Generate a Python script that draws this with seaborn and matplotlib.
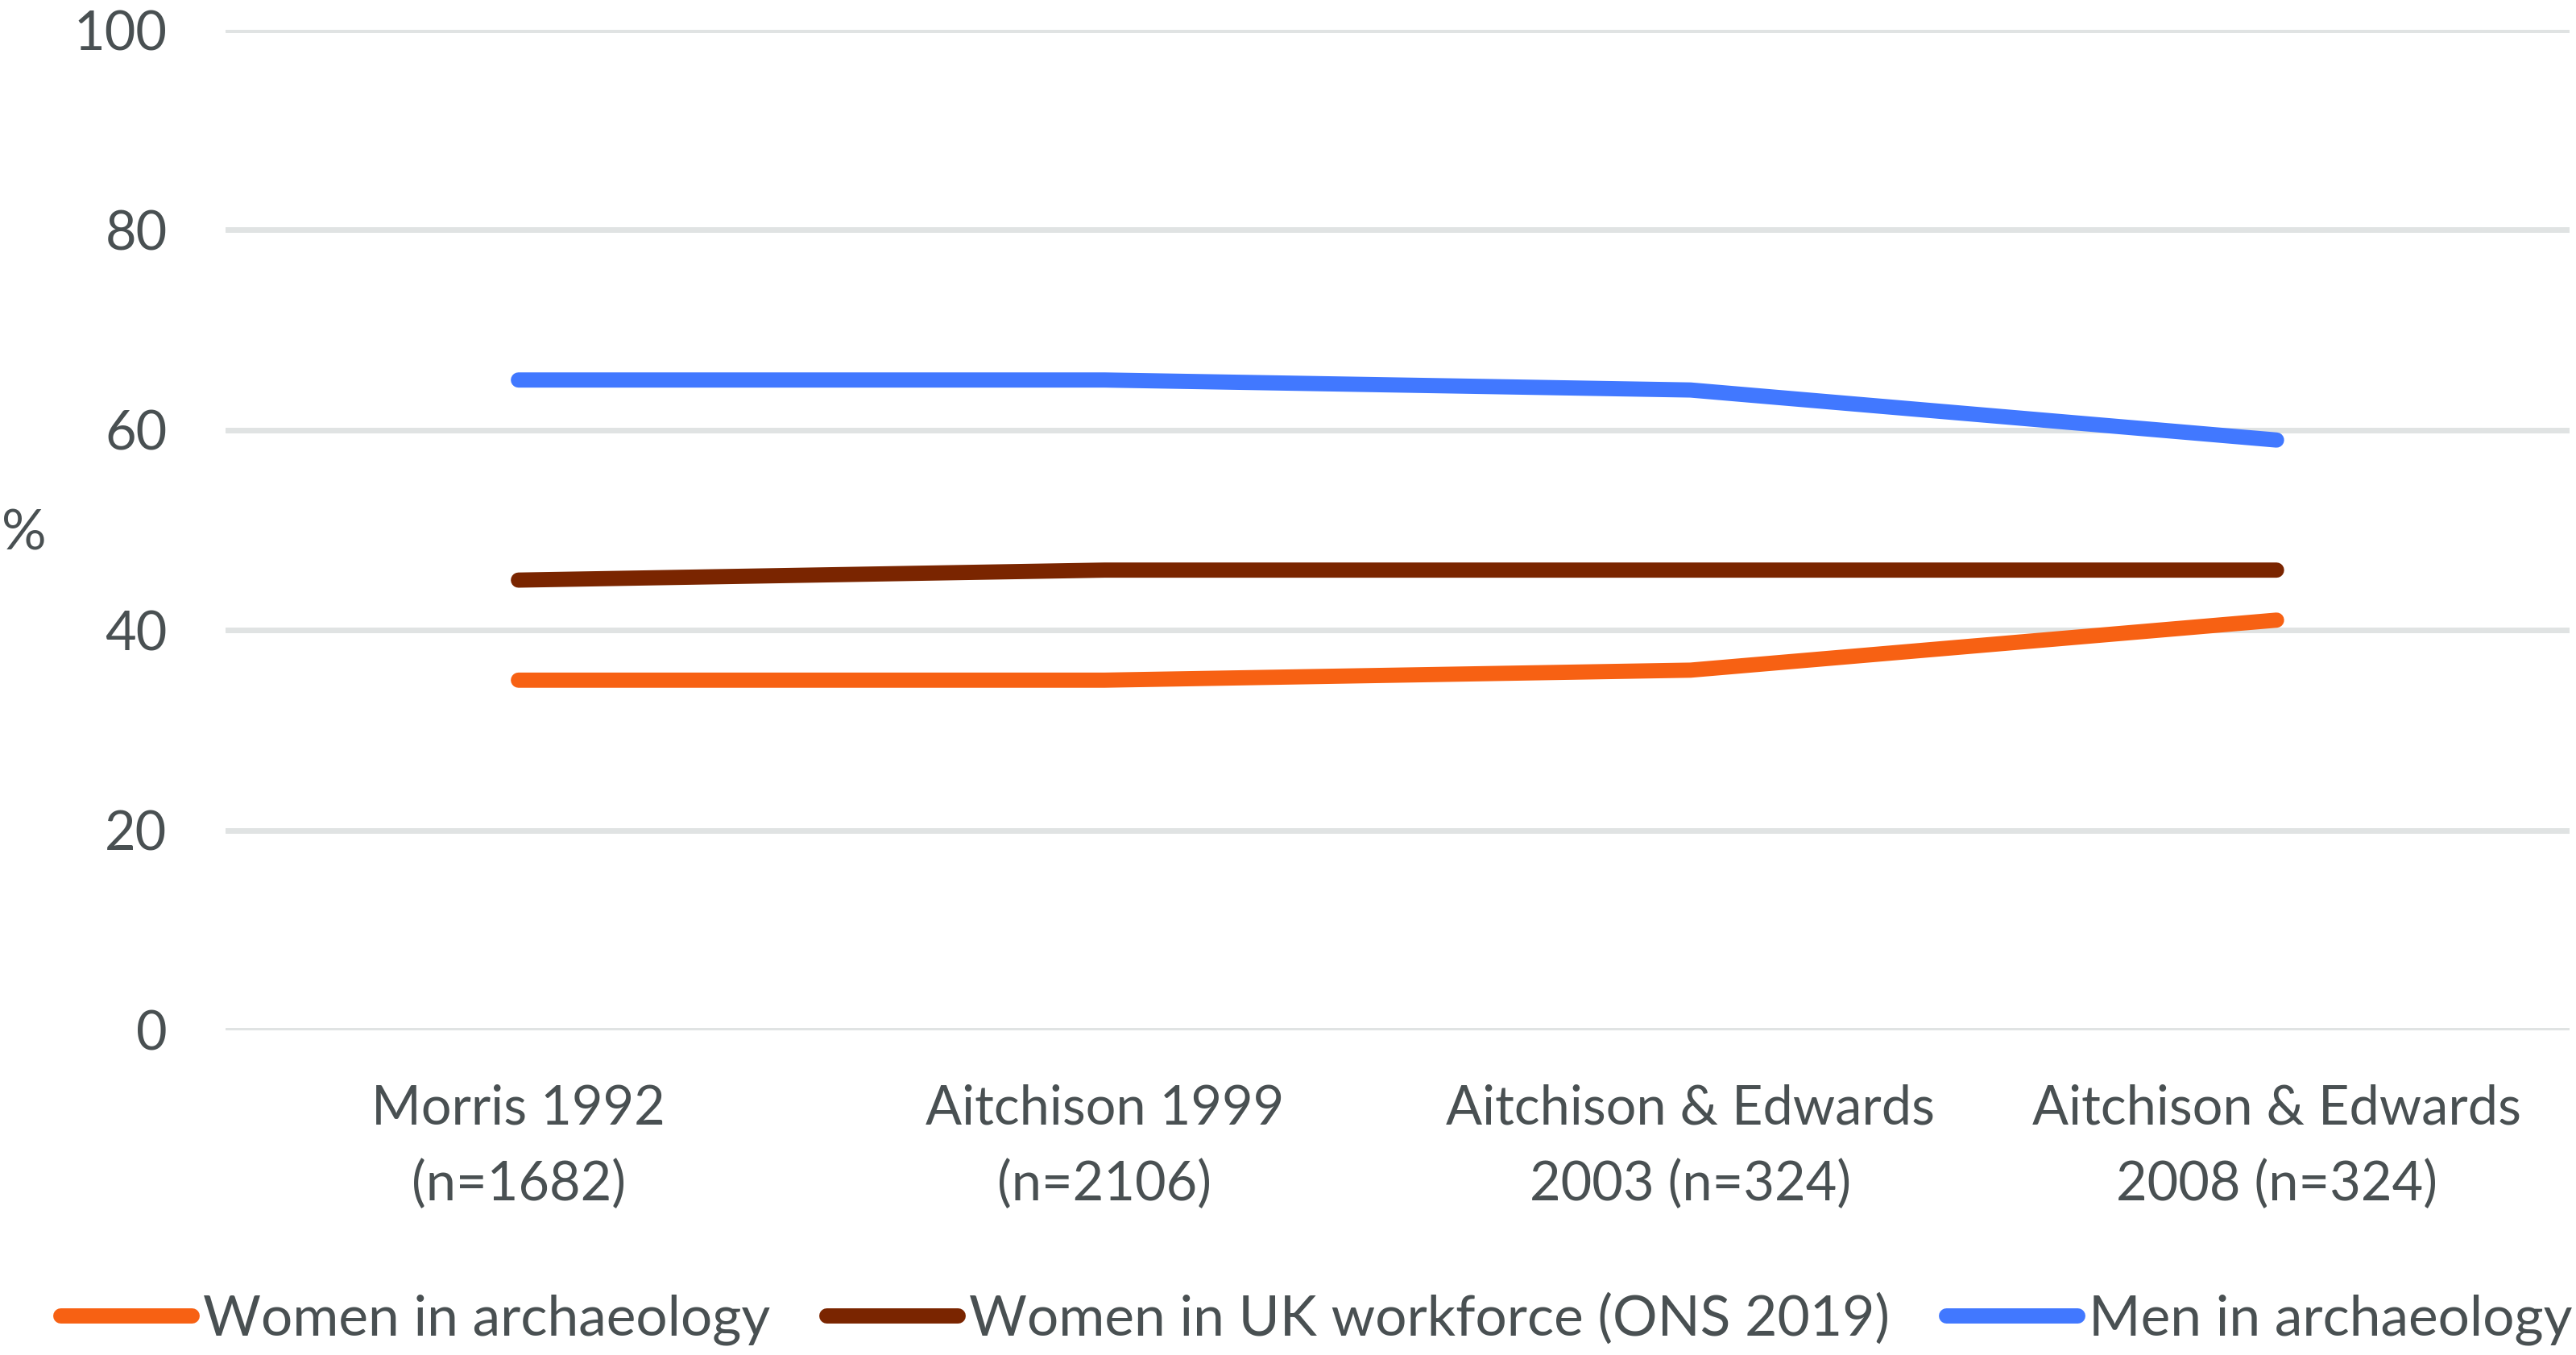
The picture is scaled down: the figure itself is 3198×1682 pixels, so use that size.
import pandas as pd
import numpy as np
import seaborn as sns
import matplotlib.pyplot as plt

# survey labels along the x axis
studies = ["Morris 1992\n(n=1682)", "Aitchison 1999\n(n=2106)",
           "Aitchison & Edwards\n2003 (n=324)", "Aitchison & Edwards\n2008 (n=324)"]

series_names = ["Women in archaeology", "Women in UK workforce (ONS 2019)", "Men in archaeology"]
women_arch = [35, 35, 36, 41]
women_uk = [45, 46, 46, 46]
men_arch = [65, 65, 64, 59]

colours = ["#F76113", "#7A2500", "#4178FF"]
text_col = "#495052"

df = pd.DataFrame({
    "study": studies * 3,
    "pct": women_arch + women_uk + men_arch,
    "series": [series_names[0]] * 4 + [series_names[1]] * 4 + [series_names[2]] * 4,
})

sns.set_style("white")
plt.rcParams["font.family"] = ["Lato", "DejaVu Sans"]

fig = plt.figure(figsize=(15.99, 8.41), dpi=200)
ax = fig.add_axes([0.0875, 0.2396, 0.91, 0.7384])

sns.lineplot(data=df, x="study", y="pct", hue="series", hue_order=series_names,
             palette=colours, linewidth=6.8, sort=False, ax=ax,
             solid_capstyle="round")

ax.set_ylim(0, 100)
ax.set_xlim(-0.5, 3.5)
ax.set_yticks(np.arange(0, 101, 20))
ax.grid(axis="y", color="#E0E3E3", linewidth=2.5)
ax.set_axisbelow(True)
for s in ax.spines.values():
    s.set_visible(False)

ax.tick_params(axis="y", length=0, pad=26, labelsize=24, labelcolor=text_col)
ax.tick_params(axis="x", length=0, pad=24, labelsize=24, labelcolor=text_col)
for lbl in ax.get_xticklabels():
    lbl.set_linespacing(1.62)

ax.set_xlabel("")
ax.set_ylabel("%", rotation=0, fontsize=25, color=text_col, va="center", ha="center")
ax.yaxis.set_label_coords(-0.086, 0.496)

handles, labels = ax.get_legend_handles_labels()
ax.get_legend().remove()
for h in handles:
    h.set_solid_capstyle("round")
fig.legend(handles, labels, loc="lower center", ncol=3, frameon=False,
           bbox_to_anchor=(0.511, -0.03), fontsize=25, labelcolor=text_col,
           handlelength=2.35, handletextpad=0.2, columnspacing=1.0)

fig.savefig("out.png", dpi=200)
